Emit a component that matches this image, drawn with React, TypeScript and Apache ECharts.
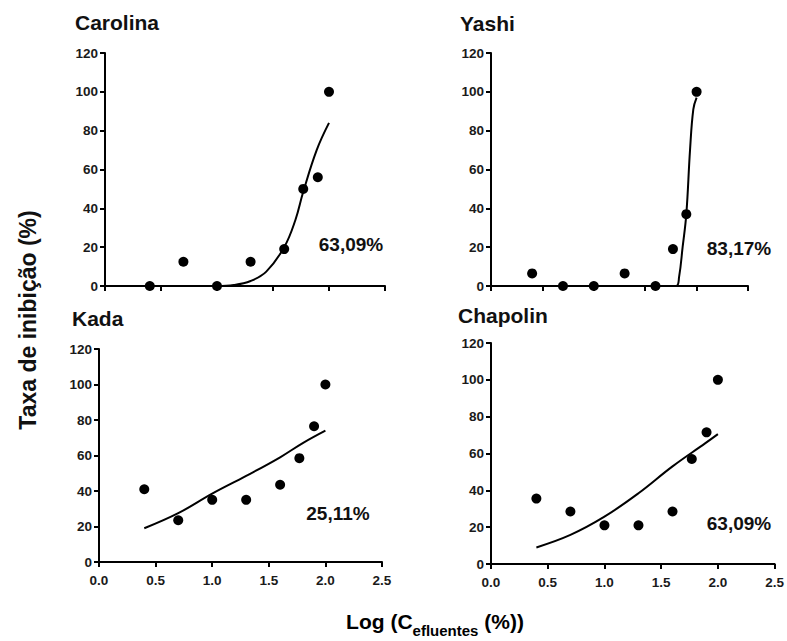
import React, { useEffect, useRef } from "react";
import * as echarts from "echarts";

// ---- Data ----
const xTicks = [0.0, 0.5, 1.0, 1.5, 2.0, 2.5];
const logConc = [0.4, 0.7, 1.0, 1.3, 1.6, 1.77, 1.9, 2.0];

const carolinaPts = [0, 12.5, 0, 12.5, 19, 50, 56, 100];
const yashiPts = [6.5, 0, 0, 6.5, 0, 19, 37, 100];
const kadaPts = [41, 23.5, 35, 35, 43.5, 58.5, 76.5, 100];
const chapolinPts = [35.5, 28.5, 21, 21, 28.5, 57, 71.5, 100];

// fitted curves
const carolinaCurveX = [1.0, 1.15, 1.3, 1.44, 1.6, 1.7, 1.77, 1.89, 2.0];
const carolinaCurveY = [0, 0.5, 2.6, 7.4, 20, 34, 48.5, 70, 84];
const yashiCurveX = [1.0, 1.8, 1.83, 1.864, 1.9, 1.936, 1.968, 2.0];
const yashiCurveY = [0, 0, 4.8, 20, 37, 70, 91, 97];
const kadaCurveX = [0.4, 0.7, 1.0, 1.3, 1.6, 1.8, 2.0];
const kadaCurveY = [19, 27.5, 38.5, 48.5, 59, 67, 74];
const chapolinCurveX = [0.4, 0.7, 1.0, 1.3, 1.6, 1.89, 2.0];
const chapolinCurveY = [9, 15.8, 25.7, 38.4, 53, 65.6, 70.5];

const panelNames = ["Carolina", "Yashi", "Kada", "Chapolin"];
const ec50Labels = ["63,09%", "83,17%", "25,11%", "63,09%"];

const yMin = 0;
const yMax = 120;
const yStep = 20;

const grids = [
  { left: 105, top: 53, width: 280, height: 233 },
  { left: 491, top: 53, width: 257, height: 233 },
  { left: 99, top: 349, width: 283, height: 213 },
  { left: 491, top: 343, width: 285, height: 221 },
];
const titlePos = [
  [75, 22],
  [460, 23],
  [72, 318],
  [458, 315],
];
const labelPos = [
  [351, 244],
  [739, 248],
  [338, 513],
  [739, 523],
];

const FONT = "'Liberation Sans', Arial, sans-serif";

export default function App() {
  const ref = useRef<HTMLDivElement>(null);
  useEffect(() => {
    if (!ref.current) return;
    const chart = echarts.init(ref.current, null, { renderer: "svg" });
    const pts = [carolinaPts, yashiPts, kadaPts, chapolinPts];
    const cx = [carolinaCurveX, yashiCurveX, kadaCurveX, chapolinCurveX];
    const cy = [carolinaCurveY, yashiCurveY, kadaCurveY, chapolinCurveY];

    const xAxis = grids.map((_, i) => ({
      type: "value",
      gridIndex: i,
      min: xTicks[0],
      max: xTicks[xTicks.length - 1],
      interval: 0.5,
      axisLine: { show: true, onZero: false, lineStyle: { color: "#000", width: 2 } },
      axisTick: { show: true, length: 5, lineStyle: { color: "#000", width: 2 } },
      splitLine: { show: false },
      axisLabel: {
        show: i >= 2,
        fontFamily: FONT,
        fontWeight: "bold",
        fontSize: 13.5,
        color: "#1a1a1a",
        margin: 11,
        formatter: (v: number) => v.toFixed(1),
      },
    }));
    const yAxis = grids.map((_, i) => ({
      type: "value",
      gridIndex: i,
      min: yMin,
      max: yMax,
      interval: yStep,
      axisLine: { show: true, onZero: false, lineStyle: { color: "#000", width: 2 } },
      axisTick: { show: true, length: 5, lineStyle: { color: "#000", width: 2 } },
      splitLine: { show: false },
      axisLabel: { fontFamily: FONT, fontWeight: "bold", fontSize: 13.5, color: "#1a1a1a", margin: 7 },
    }));

    const series: any[] = [];
    for (let i = 0; i < 4; i++) {
      series.push({
        type: "line",
        xAxisIndex: i,
        yAxisIndex: i,
        data: cx[i].map((x, k) => [x, cy[i][k]]),
        smooth: 0.4,
        showSymbol: false,
        lineStyle: { color: "#000", width: 2 },
        z: 3,
      });
      series.push({
        type: "scatter",
        xAxisIndex: i,
        yAxisIndex: i,
        data: logConc.map((x, k) => [x, pts[i][k]]),
        symbol: "circle",
        symbolSize: 10,
        itemStyle: { color: "#000", opacity: 1 },
        z: 4,
      });
    }

    const graphic: any[] = [];
    for (let i = 0; i < 4; i++) {
      graphic.push({
        type: "text",
        x: titlePos[i][0],
        y: titlePos[i][1],
        style: { text: panelNames[i], font: `bold 21px ${FONT}`, fill: "#111", verticalAlign: "middle" },
      });
      graphic.push({
        type: "text",
        x: labelPos[i][0],
        y: labelPos[i][1],
        style: {
          text: ec50Labels[i],
          font: `bold 19px ${FONT}`,
          fill: "#111",
          align: "center",
          verticalAlign: "middle",
        },
      });
    }
    graphic.push({
      type: "text",
      x: 28,
      y: 320,
      rotation: Math.PI / 2,
      style: {
        text: "Taxa de inibição (%)",
        font: `bold 23px ${FONT}`,
        fill: "#111",
        align: "center",
        verticalAlign: "middle",
      },
    });
    graphic.push({
      type: "text",
      x: 435,
      y: 624,
      style: {
        text: "{a|Log (C}{b|efluentes}{a| (%))}",
        align: "center",
        verticalAlign: "middle",
        rich: {
          a: { fontFamily: FONT, fontWeight: "bold", fontSize: 21, color: "#111", padding: [0, 0, 6, 0], verticalAlign: "bottom" },
          b: { fontFamily: FONT, fontWeight: "bold", fontSize: 15, color: "#111", verticalAlign: "bottom" },
        },
      },
    });

    chart.setOption({
      animation: false,
      backgroundColor: "#fff",
      grid: grids.map((g) => ({ ...g, containLabel: false })),
      xAxis,
      yAxis,
      series,
      graphic,
    });
    return () => chart.dispose();
  }, []);
  return <div ref={ref} style={{ width: 787, height: 641, position: "absolute", left: 0, top: 0 }} />;
}
